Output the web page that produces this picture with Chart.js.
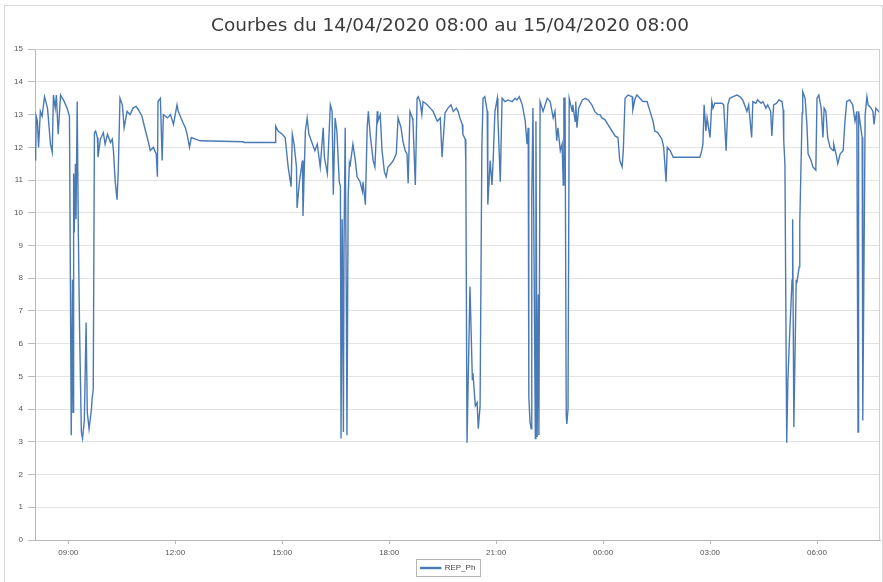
<!DOCTYPE html>
<html>
<head>
<meta charset="utf-8">
<script src="https://cdn.jsdelivr.net/npm/chart.js@4/dist/chart.umd.min.js"></script>
<style>
    html, body { margin: 0; padding: 0; background: #fff; }
    #wrap { width: 883px; height: 582px; }
</style>
</head>
<body>
<div id="wrap"><canvas id="chart"></canvas></div>
<script>
const chartTitle = 'Courbes du 14/04/2020 08:00 au 15/04/2020 08:00';
const seriesName = 'REP_Ph';

// heure de mesure (le 14/04 puis le 15/04 après minuit)
const times = [
    '08:05', '08:06', '08:08', '08:10', '08:13', '08:16', '08:20', '08:25', '08:26', '08:30',
    '08:33', '08:35', '08:38', '08:40', '08:43', '08:47', '08:50', '08:52', '08:58', '09:02',
    '09:05', '09:07', '09:08', '09:09', '09:10', '09:12', '09:13', '09:15', '09:17', '09:19',
    '09:22', '09:24', '09:27', '09:30', '09:32', '09:35', '09:39', '09:40', '09:42', '09:44',
    '09:46', '09:49', '09:50', '09:54', '09:59', '10:02', '10:06', '10:11', '10:14', '10:16',
    '10:19', '10:22', '10:24', '10:27', '10:31', '10:34', '10:39', '10:44', '10:49', '10:54',
    '10:58', '11:04', '11:10', '11:15', '11:18', '11:23', '11:28', '11:30', '11:31', '11:35',
    '11:38', '11:40', '11:47', '11:52', '11:57', '12:03', '12:05', '12:12', '12:17', '12:20',
    '12:24', '12:27', '12:34', '12:42', '13:54', '13:56', '14:48', '14:49', '14:53', '15:00',
    '15:05', '15:10', '15:15', '15:17', '15:20', '15:24', '15:25', '15:29', '15:34', '15:35',
    '15:39', '15:42', '15:45', '15:50', '15:55', '15:59', '16:04', '16:09', '16:11', '16:16',
    '16:21', '16:24', '16:26', '16:29', '16:32', '16:36', '16:38', '16:39', '16:41', '16:43',
    '16:44', '16:46', '16:48', '16:49', '16:51', '16:53', '16:54', '16:59', '17:03', '17:06',
    '17:11', '17:15', '17:16', '17:20', '17:23', '17:25', '17:28', '17:33', '17:36', '17:40',
    '17:41', '17:45', '17:48', '17:52', '17:55', '17:58', '18:03', '18:07', '18:12', '18:15',
    '18:20', '18:23', '18:27', '18:30', '18:32', '18:35', '18:39', '18:40', '18:44', '18:47',
    '18:49', '18:52', '18:55', '18:57', '19:04', '19:09', '19:14', '19:21', '19:26', '19:29',
    '19:34', '19:39', '19:44', '19:48', '19:53', '19:56', '19:59', '20:03', '20:04', '20:08',
    '20:09', '20:11', '20:16', '20:20', '20:21', '20:25', '20:28', '20:30', '20:33', '20:36',
    '20:38', '20:41', '20:45', '20:46', '20:50', '20:53', '20:55', '20:58', '21:02', '21:03',
    '21:07', '21:10', '21:15', '21:20', '21:27', '21:32', '21:35', '21:39', '21:44', '21:49',
    '21:52', '21:54', '21:55', '21:57', '21:59', '22:00', '22:02', '22:06', '22:07', '22:09',
    '22:11', '22:12', '22:14', '22:19', '22:26', '22:31', '22:36', '22:39', '22:42', '22:44',
    '22:48', '22:51', '22:53', '22:54', '22:56', '22:58', '22:59', '23:01', '23:03', '23:04',
    '23:08', '23:09', '23:13', '23:14', '23:16', '23:19', '23:25', '23:30', '23:35', '23:41',
    '23:46', '23:51', '23:55', '23:58', '00:03', '00:08', '00:15', '00:20', '00:25', '00:28',
    '00:32', '00:34', '00:37', '00:42', '00:49', '00:50', '00:54', '00:57', '01:02', '01:07',
    '01:14', '01:19', '01:24', '01:27', '01:32', '01:39', '01:42', '01:46', '01:48', '01:53',
    '01:58', '02:04', '02:43', '02:46', '02:48', '02:50', '02:53', '02:55', '03:00', '03:03',
    '03:05', '03:08', '03:13', '03:20', '03:23', '03:27', '03:30', '03:33', '03:39', '03:45',
    '03:50', '03:55', '04:00', '04:02', '04:05', '04:10', '04:12', '04:17', '04:20', '04:26',
    '04:29', '04:34', '04:37', '04:42', '04:44', '04:47', '04:52', '04:56', '05:01', '05:03',
    '05:04', '05:06', '05:09', '05:11', '05:14', '05:18', '05:19', '05:21', '05:25', '05:26',
    '05:30', '05:31', '05:35', '05:36', '05:40', '05:43', '05:45', '05:50', '05:53', '05:58',
    '06:00', '06:03', '06:07', '06:10', '06:12', '06:15', '06:18', '06:22', '06:27', '06:28',
    '06:32', '06:35', '06:39', '06:44', '06:47', '06:50', '06:55', '07:00', '07:04', '07:07',
    '07:09', '07:10', '07:16', '07:17', '07:21', '07:24', '07:26', '07:31', '07:34', '07:36',
    '07:39', '07:46'
];

const repPh = [
    11.6, 12.95, 12.8, 12.0, 13.1, 12.95, 13.55, 13.2, 13.0, 12.1,
    11.85, 13.6, 13.2, 13.6, 12.4, 13.6, 13.5, 13.45, 13.2, 12.95,
    3.2, 7.95, 3.9, 11.2, 9.4, 11.5, 9.8, 13.4, 9.3, 6.45,
    3.3, 3.1, 3.65, 6.65, 3.9, 3.4, 4.0, 4.3, 4.6, 12.45,
    12.5, 12.3, 11.7, 12.25, 12.45, 12.1, 12.4, 12.15, 12.25, 11.9,
    10.95, 10.4, 11.2, 13.5, 13.3, 12.6, 13.1, 13.0, 13.2, 13.25,
    13.15, 12.95, 12.5, 12.15, 11.9, 12.0, 11.8, 11.1, 13.4, 13.5,
    11.6, 13.0, 12.9, 13.0, 12.7, 13.3, 13.1, 12.8, 12.6, 12.4,
    12.0, 12.3, 12.25, 12.2, 12.17, 12.15, 12.15, 12.65, 12.5, 12.4,
    12.3, 11.4, 10.8, 12.4, 12.1, 11.4, 10.15, 10.95, 11.6, 9.9,
    12.5, 12.9, 12.4, 12.15, 11.9, 12.1, 11.4, 12.6, 11.7, 11.2,
    13.3, 13.1, 10.55, 12.9, 12.5, 10.95, 10.8, 3.1, 9.8, 3.3,
    9.0, 12.6, 7.0, 3.2, 10.5, 11.5, 11.4, 12.1, 11.6, 11.1,
    10.95, 10.65, 10.95, 10.25, 12.6, 13.1, 12.4, 11.6, 11.4, 13.1,
    12.8, 13.0, 11.9, 11.25, 11.1, 11.4, 11.5, 11.6, 11.8, 12.9,
    12.6, 12.2, 11.9, 11.8, 10.9, 13.1, 12.9, 12.8, 10.85, 13.5,
    13.55, 13.4, 13.0, 13.4, 13.3, 13.2, 13.1, 12.8, 12.9, 11.7,
    13.05, 13.2, 13.3, 13.1, 13.2, 13.1, 12.9, 12.7, 12.4, 12.25,
    11.5, 2.97, 7.75, 4.9, 5.1, 4.1, 4.2, 3.4, 4.1, 12.0,
    13.5, 13.55, 13.1, 10.25, 11.6, 10.85, 11.6, 13.1, 13.5, 12.9,
    10.95, 13.5, 13.4, 13.45, 13.4, 13.5, 13.45, 13.55, 13.3, 12.8,
    12.1, 12.6, 4.4, 3.6, 3.4, 10.5, 13.2, 3.1, 12.8, 3.15,
    7.5, 3.2, 13.4, 13.1, 13.5, 13.4, 12.9, 13.1, 12.2, 12.6,
    11.9, 12.1, 10.85, 13.5, 13.5, 3.8, 3.55, 4.0, 13.5, 13.5,
    13.1, 13.3, 12.8, 13.4, 12.6, 13.2, 13.45, 13.5, 13.45, 13.3,
    13.1, 13.0, 13.0, 12.9, 12.85, 12.7, 12.5, 12.35, 12.3, 11.6,
    11.4, 11.9, 13.5, 13.6, 13.55, 13.15, 13.5, 13.6, 13.5, 13.4,
    13.4, 13.1, 12.8, 12.5, 12.45, 12.25, 12.0, 10.95, 12.0, 11.9,
    11.7, 11.7, 11.7, 11.9, 12.1, 13.3, 12.5, 12.9, 12.3, 13.4,
    13.2, 13.35, 13.35, 13.35, 13.3, 11.9, 13.3, 13.5, 13.55, 13.6,
    13.55, 13.45, 13.2, 13.1, 13.3, 12.3, 13.4, 13.35, 13.45, 13.35,
    13.4, 13.2, 13.3, 13.1, 12.35, 13.3, 13.35, 13.45, 13.4, 13.15,
    12.2, 11.5, 2.97, 4.9, 6.3, 7.95, 9.8, 3.45, 7.95, 7.85,
    8.35, 9.7, 13.05, 13.7, 13.5, 12.7, 11.8, 11.6, 11.4, 11.3,
    13.5, 13.6, 13.2, 12.3, 13.2, 13.1, 12.3, 12.0, 11.9, 12.1,
    11.8, 11.5, 11.8, 11.9, 12.8, 13.4, 13.45, 13.3, 12.8, 13.1,
    3.3, 13.1, 12.3, 3.65, 13.0, 13.55, 13.3, 13.2, 13.1, 12.7,
    13.2, 13.05
];

const yTicks = [0, 1, 2, 3, 4, 5, 6, 7, 8, 9, 10, 11, 12, 13, 14, 15];
const xTickHours = [9, 12, 15, 18, 21, 24, 27, 30];

// "HH:MM" -> heures depuis minuit du 14/04
function toHours(s) {
    const [h, m] = s.split(':').map(Number);
    let v = h + m / 60;
    if (v < 8) v += 24;
    return v;
}

function pad(n) {
    return (n < 10 ? '0' : '') + n;
}

const points = times.map((t, i) => ({ x: toHours(t), y: repPh[i] }));

const framePlugin = {
    id: 'frame',
    afterLayout(chart) {
        // titre et légende un peu décalés vers la droite dans l'original
        chart.titleBlock.left += 20;
        chart.legend.left += 16;
    },
    beforeDraw(chart) {
        const ctx = chart.ctx;
        ctx.save();
        ctx.fillStyle = '#fff';
        ctx.fillRect(0, 0, chart.width, chart.height);
        ctx.strokeStyle = '#d9d9d9';
        ctx.lineWidth = 1;
        ctx.strokeRect(4.5, 5.5, chart.width - 5, chart.height + 10);
        ctx.restore();
    },
    afterDraw(chart) {
        const ctx = chart.ctx;
        const a = chart.chartArea;
        ctx.save();
        ctx.strokeStyle = '#d0d0d0';
        ctx.lineWidth = 1;
        ctx.beginPath();
        ctx.moveTo(a.left, Math.round(a.top) + 0.5);
        ctx.lineTo(Math.round(a.right) - 0.5, Math.round(a.top) + 0.5);
        ctx.lineTo(Math.round(a.right) - 0.5, a.bottom);
        ctx.stroke();

        // cadre de la légende
        const box = chart.legend.legendHitBoxes[0];
        if (box) {
            ctx.strokeStyle = '#b5b5b5';
            ctx.strokeRect(Math.round(box.left) - 4.5, Math.round(box.top) - 4.5,
                Math.round(box.width) + 9, Math.round(box.height) + 9);
        }
        ctx.restore();
    }
};

new Chart(document.getElementById('chart'), {
    type: 'line',
    data: {
        datasets: [{
            label: seriesName,
            data: points,
            borderColor: '#4a7ab6',
            backgroundColor: '#4a7ab6',
            borderWidth: 1.4,
            pointRadius: 0,
            tension: 0
        }]
    },
    options: {
        responsive: true,
        maintainAspectRatio: false,
        animation: false,
        layout: { padding: { left: 0, right: 3, top: 11, bottom: 0 } },
        plugins: {
            title: {
                display: true,
                text: chartTitle,
                color: '#3c3c3c',
                font: { family: 'DejaVu Sans', size: 18.5, weight: 'normal' },
                padding: { top: 4, bottom: 12 }
            },
            legend: {
                position: 'bottom',
                labels: {
                    boxWidth: 20,
                    boxHeight: 1,
                    padding: 4,
                    color: '#444',
                    font: { family: 'Liberation Sans', size: 8 }
                }
            },
            tooltip: { enabled: false }
        },
        scales: {
            x: {
                type: 'linear',
                min: toHours('08:04'),
                max: toHours('07:46'),
                afterBuildTicks(scale) {
                    scale.ticks = xTickHours.map(v => ({ value: v }));
                },
                afterFit(scale) { scale.height = 20; },
                ticks: {
                    autoSkip: false,
                    maxRotation: 0,
                    color: '#555',
                    padding: 4,
                    font: { family: 'Liberation Sans', size: 8 },
                    callback: v => pad(v % 24) + ':00'
                },
                grid: { drawOnChartArea: false, tickLength: 4, color: '#bbb' },
                border: { color: '#b8b8b8' }
            },
            y: {
                min: 0,
                max: 15,
                afterBuildTicks(scale) {
                    scale.ticks = yTicks.map(v => ({ value: v }));
                },
                afterFit(scale) { scale.width = 35; },
                ticks: {
                    color: '#555',
                    padding: 5,
                    font: { family: 'Liberation Sans', size: 8 }
                },
                grid: { color: '#e3e3e3', tickLength: 7, tickColor: '#bbb' },
                border: { color: '#b8b8b8' }
            }
        }
    },
    plugins: [framePlugin]
});
</script>
</body>
</html>
